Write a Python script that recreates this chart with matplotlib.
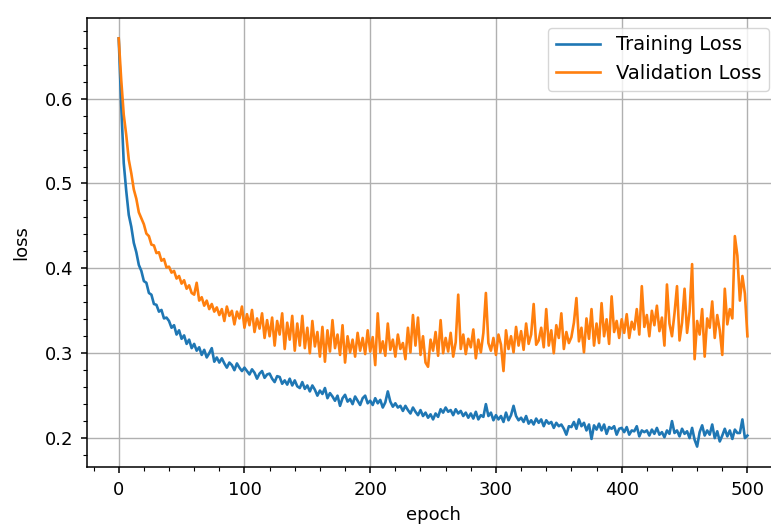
"""
Training vs. validation loss curve over 500 epochs.

Values were read off the reference plot every second epoch.

Run with:
    python plot.py
"""
from __future__ import annotations

import matplotlib

matplotlib.use("Agg")
import matplotlib.pyplot as plt  # noqa: E402
import numpy as np  # noqa: E402

# ---------------------------------------------------------------------------
# Data (one value every 2 epochs, 0 .. 500)
# ---------------------------------------------------------------------------

epochs = np.arange(0, 501, 2)

train_loss = [
    0.671, 0.592, 0.524, 0.491, 0.463, 0.449, 0.430, 0.419, 0.404, 0.397,  # 0-18
    0.385, 0.383, 0.371, 0.369, 0.358, 0.357, 0.349, 0.351, 0.341, 0.342,  # 20-38
    0.338, 0.330, 0.333, 0.322, 0.327, 0.317, 0.321, 0.311, 0.316, 0.306,  # 40-58
    0.311, 0.303, 0.307, 0.298, 0.304, 0.295, 0.300, 0.306, 0.290, 0.295,  # 60-78
    0.289, 0.294, 0.288, 0.283, 0.289, 0.286, 0.280, 0.288, 0.283, 0.279,  # 80-98
    0.283, 0.279, 0.275, 0.281, 0.277, 0.270, 0.276, 0.279, 0.271, 0.275,  # 100-118
    0.276, 0.270, 0.266, 0.273, 0.272, 0.264, 0.268, 0.263, 0.270, 0.262,  # 120-138
    0.268, 0.261, 0.259, 0.266, 0.258, 0.262, 0.255, 0.262, 0.257, 0.250,  # 140-158
    0.256, 0.252, 0.259, 0.247, 0.253, 0.249, 0.244, 0.250, 0.238, 0.247,  # 160-178
    0.251, 0.243, 0.246, 0.240, 0.249, 0.244, 0.239, 0.247, 0.250, 0.241,  # 180-198
    0.244, 0.239, 0.247, 0.241, 0.245, 0.236, 0.242, 0.255, 0.243, 0.237,  # 200-218
    0.241, 0.236, 0.238, 0.232, 0.238, 0.233, 0.229, 0.236, 0.231, 0.227,  # 220-238
    0.233, 0.226, 0.230, 0.224, 0.228, 0.222, 0.229, 0.225, 0.234, 0.230,  # 240-258
    0.236, 0.231, 0.233, 0.227, 0.234, 0.229, 0.232, 0.226, 0.230, 0.224,  # 260-278
    0.229, 0.223, 0.231, 0.222, 0.227, 0.225, 0.240, 0.226, 0.230, 0.221,  # 280-298
    0.227, 0.222, 0.226, 0.219, 0.230, 0.221, 0.227, 0.238, 0.226, 0.221,  # 300-318
    0.224, 0.219, 0.226, 0.217, 0.221, 0.216, 0.223, 0.218, 0.222, 0.214,  # 320-338
    0.221, 0.217, 0.219, 0.212, 0.218, 0.214, 0.216, 0.211, 0.204, 0.214,  # 340-358
    0.213, 0.219, 0.211, 0.222, 0.214, 0.218, 0.209, 0.216, 0.199, 0.215,  # 360-378
    0.210, 0.217, 0.209, 0.216, 0.205, 0.213, 0.211, 0.214, 0.204, 0.211,  # 380-398
    0.212, 0.207, 0.213, 0.204, 0.209, 0.208, 0.214, 0.202, 0.209, 0.207,  # 400-418
    0.209, 0.203, 0.210, 0.205, 0.212, 0.204, 0.207, 0.201, 0.209, 0.205,  # 420-438
    0.220, 0.206, 0.209, 0.202, 0.211, 0.205, 0.208, 0.200, 0.212, 0.198,  # 440-458
    0.190, 0.207, 0.215, 0.203, 0.209, 0.204, 0.216, 0.200, 0.208, 0.196,  # 460-478
    0.203, 0.211, 0.202, 0.209, 0.199, 0.210, 0.206, 0.206, 0.222, 0.200,  # 480-498
    0.203,                                                                 # 500
]

val_loss = [
    0.671, 0.622, 0.581, 0.557, 0.528, 0.512, 0.493, 0.482, 0.466, 0.459,  # 0-18
    0.452, 0.441, 0.438, 0.428, 0.427, 0.418, 0.419, 0.409, 0.411, 0.401,  # 20-38
    0.402, 0.395, 0.397, 0.388, 0.391, 0.382, 0.386, 0.376, 0.380, 0.371,  # 40-58
    0.369, 0.383, 0.362, 0.366, 0.356, 0.362, 0.352, 0.358, 0.349, 0.354,  # 60-78
    0.345, 0.352, 0.338, 0.355, 0.344, 0.350, 0.334, 0.349, 0.341, 0.355,  # 80-98
    0.330, 0.346, 0.333, 0.351, 0.325, 0.341, 0.329, 0.347, 0.318, 0.339,  # 100-118
    0.320, 0.342, 0.309, 0.338, 0.322, 0.347, 0.305, 0.336, 0.316, 0.344,  # 120-138
    0.303, 0.335, 0.309, 0.344, 0.306, 0.330, 0.300, 0.338, 0.308, 0.325,  # 140-158
    0.296, 0.331, 0.290, 0.327, 0.302, 0.339, 0.306, 0.322, 0.298, 0.333,  # 160-178
    0.289, 0.320, 0.301, 0.316, 0.296, 0.324, 0.303, 0.318, 0.299, 0.327,  # 180-198
    0.302, 0.319, 0.286, 0.347, 0.301, 0.314, 0.297, 0.335, 0.304, 0.316,  # 200-218
    0.296, 0.322, 0.305, 0.312, 0.293, 0.330, 0.301, 0.345, 0.309, 0.342,  # 220-238
    0.298, 0.320, 0.289, 0.284, 0.316, 0.303, 0.325, 0.297, 0.339, 0.300,  # 240-258
    0.318, 0.302, 0.324, 0.296, 0.313, 0.369, 0.305, 0.322, 0.299, 0.317,  # 260-278
    0.307, 0.328, 0.294, 0.316, 0.301, 0.324, 0.371, 0.312, 0.303, 0.318,  # 280-298
    0.298, 0.322, 0.310, 0.279, 0.327, 0.305, 0.320, 0.301, 0.331, 0.309,  # 300-318
    0.326, 0.304, 0.335, 0.311, 0.322, 0.358, 0.310, 0.315, 0.330, 0.307,  # 320-338
    0.352, 0.309, 0.327, 0.300, 0.333, 0.318, 0.347, 0.305, 0.325, 0.312,  # 340-358
    0.319, 0.336, 0.365, 0.314, 0.330, 0.301, 0.341, 0.317, 0.352, 0.309,  # 360-378
    0.335, 0.312, 0.359, 0.320, 0.340, 0.311, 0.367, 0.325, 0.338, 0.318,  # 380-398
    0.340, 0.324, 0.346, 0.318, 0.337, 0.328, 0.352, 0.322, 0.379, 0.331,  # 400-418
    0.345, 0.320, 0.350, 0.333, 0.356, 0.326, 0.342, 0.309, 0.381, 0.335,  # 420-438
    0.320, 0.347, 0.379, 0.315, 0.336, 0.376, 0.324, 0.349, 0.405, 0.293,  # 440-458
    0.338, 0.322, 0.352, 0.296, 0.341, 0.330, 0.361, 0.318, 0.345, 0.327,  # 460-478
    0.298, 0.376, 0.334, 0.352, 0.341, 0.438, 0.415, 0.362, 0.391, 0.370,  # 480-498
    0.320,                                                                 # 500
]

series_labels = ["Training Loss", "Validation Loss"]
x_label = "epoch"
y_label = "loss"


def main() -> None:
    plt.rcParams["font.family"] = ["DejaVu Sans"]
    plt.rcParams["font.size"] = 13
    plt.rcParams["axes.linewidth"] = 1.1

    fig = plt.figure(figsize=(7.71, 5.30), dpi=100)
    # right spine sits just past the canvas edge, like the cropped original
    ax = fig.add_axes([0.1132, 0.1189, 0.897, 0.8472])

    ax.plot(epochs, train_loss, color="#1f77b4", lw=1.9, label=series_labels[0])
    ax.plot(epochs, val_loss, color="#ff7f0e", lw=1.9, label=series_labels[1])

    ax.minorticks_on()
    ax.grid(True, which="major", color="#b0b0b0", lw=1.0)
    ax.tick_params(which="major", length=4.2, width=1.1, pad=6)
    ax.tick_params(which="minor", length=2.6, width=0.8)
    ax.set_xlabel(x_label, labelpad=5)
    ax.set_ylabel(y_label, labelpad=10)
    ax.legend(loc="upper right", fontsize=14, handlelength=2.3)

    fig.savefig("out.png", dpi=100)
    plt.close(fig)


if __name__ == "__main__":
    main()
